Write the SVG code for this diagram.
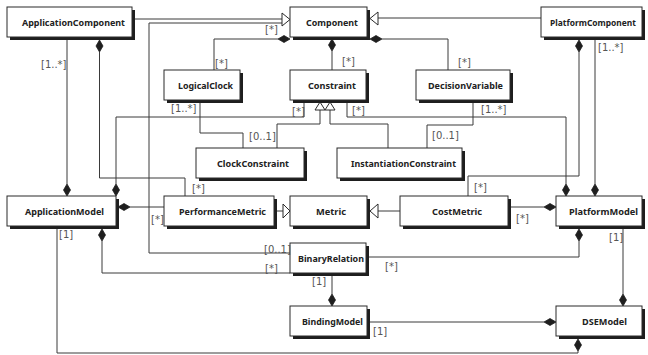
<svg xmlns="http://www.w3.org/2000/svg" width="648" height="355" viewBox="0 0 648 355">
<style>
.box{fill:#fff;stroke:#2a2a2a;stroke-width:1}
.sh{fill:#1e1e1e}
.nt{font-family:"Noto Sans","DejaVu Sans",sans-serif;font-weight:bold;font-size:9.5px;fill:#222}
.ml{font-family:"DejaVu Sans",sans-serif;font-size:10px;fill:#555}
.ln{fill:none;stroke:#3a3a3a;stroke-width:1}
.dia{fill:#1e1e1e;stroke:#1e1e1e;stroke-width:0.8}
.tri{fill:#fff;stroke:#2a2a2a;stroke-width:1}
</style>
<rect width="648" height="355" fill="#fff"/>
<g id="connectors">
<path class="ln" d="M135,19 H282"/>
<path class="ln" d="M290,253 H149 V23 H282"/>
<polygon class="tri" points="282,13 290,19.5 282,26"/>
<path class="ln" d="M541,18 H378"/>
<polygon class="tri" points="378,12 370,18.5 378,25"/>
<path class="ln" d="M277,148 V124 H320 V110"/>
<path class="ln" d="M388,148 V124 H330 V110"/>
<polygon class="tri" points="315,110 320,102 325,110"/>
<polygon class="tri" points="325,110 330,102 335,110"/>
<path class="ln" d="M277,211 H283"/>
<polygon class="tri" points="283,204 290,211 283,218"/>
<path class="ln" d="M400,211 H378"/>
<polygon class="tri" points="378,204 370,211 378,218"/>
<path class="ln" d="M278,39 H214 V70"/>
<polygon class="dia" points="290,39 284,35.5 278,39 284,42.5"/>
<path class="ln" d="M332,51 V70"/>
<polygon class="dia" points="332,39 335.5,45 332,51 328.5,45"/>
<path class="ln" d="M382,39 H448 V70"/>
<polygon class="dia" points="370,39 376,35.5 382,39 376,42.5"/>
<path class="ln" d="M579,52 V176 H468 V196"/>
<polygon class="dia" points="579,40 582.5,46 579,52 575.5,46"/>
<path class="ln" d="M595,40 V184"/>
<polygon class="dia" points="595,184 598.5,190 595,196 591.5,190"/>
<path class="ln" d="M67,40 V184"/>
<polygon class="dia" points="67,184 70.5,190 67,196 63.5,190"/>
<path class="ln" d="M99.5,52 V178 H185 V196"/>
<polygon class="dia" points="99.5,40 103,46 99.5,52 96,46"/>
<path class="ln" d="M200,103 V133 H243 V148"/>
<path class="ln" d="M473,103 V125 H427 V148"/>
<path class="ln" d="M304,103 V117 H116 V184"/>
<polygon class="dia" points="116,184 119.5,190 116,196 112.5,190"/>
<path class="ln" d="M347,103 V117 H566 V184"/>
<polygon class="dia" points="566,184 569.5,190 566,196 562.5,190"/>
<path class="ln" d="M130,207 H164"/>
<polygon class="dia" points="118,207 124,203.5 130,207 124,210.5"/>
<path class="ln" d="M511,207 H544"/>
<polygon class="dia" points="544,207 550,203.5 556,207 550,210.5"/>
<path class="ln" d="M102,241 V273 H290"/>
<polygon class="dia" points="102,229 105.5,235 102,241 98.5,235"/>
<path class="ln" d="M369,257 H579 V241"/>
<polygon class="dia" points="579,229 582.5,235 579,241 575.5,235"/>
<path class="ln" d="M623,229 V294"/>
<polygon class="dia" points="623,294 626.5,300 623,306 619.5,300"/>
<path class="ln" d="M332,276 V294"/>
<polygon class="dia" points="332,294 335.5,300 332,306 328.5,300"/>
<path class="ln" d="M370,322 H544"/>
<polygon class="dia" points="544,322 550,318.5 556,322 550,325.5"/>
<path class="ln" d="M57,229 V353 H578 V351"/>
<polygon class="dia" points="578,339 581.5,345 578,351 574.5,345"/>
</g>
<g id="ApplicationComponent"><rect class="sh" x="10" y="10" width="125" height="30"/><rect class="box" x="7" y="7" width="125" height="30"/><text class="nt" x="22" y="26" textLength="103" lengthAdjust="spacingAndGlyphs">ApplicationComponent</text></g>
<g id="Component"><rect class="sh" x="293" y="10" width="77" height="30"/><rect class="box" x="290" y="7" width="77" height="30"/><text class="nt" x="306" y="26" textLength="52" lengthAdjust="spacingAndGlyphs">Component</text></g>
<g id="PlatformComponent"><rect class="sh" x="544" y="10" width="101" height="30"/><rect class="box" x="541" y="7" width="101" height="30"/><text class="nt" x="550" y="26" textLength="86" lengthAdjust="spacingAndGlyphs">PlatformComponent</text></g>
<g id="LogicalClock"><rect class="sh" x="167" y="73" width="76" height="30"/><rect class="box" x="164" y="70" width="76" height="30"/><text class="nt" x="178" y="89" textLength="55" lengthAdjust="spacingAndGlyphs">LogicalClock</text></g>
<g id="Constraint"><rect class="sh" x="293" y="73" width="76" height="30"/><rect class="box" x="290" y="70" width="76" height="30"/><text class="nt" x="308" y="89" textLength="48" lengthAdjust="spacingAndGlyphs">Constraint</text></g>
<g id="DecisionVariable"><rect class="sh" x="419" y="73" width="94" height="30"/><rect class="box" x="416" y="70" width="94" height="30"/><text class="nt" x="428" y="89" textLength="75" lengthAdjust="spacingAndGlyphs">DecisionVariable</text></g>
<g id="ClockConstraint"><rect class="sh" x="199" y="151" width="108" height="30"/><rect class="box" x="196" y="148" width="108" height="30"/><text class="nt" x="217" y="167" textLength="72" lengthAdjust="spacingAndGlyphs">ClockConstraint</text></g>
<g id="InstantiationConstraint"><rect class="sh" x="340" y="151" width="125" height="30"/><rect class="box" x="337" y="148" width="125" height="30"/><text class="nt" x="351" y="167" textLength="105" lengthAdjust="spacingAndGlyphs">InstantiationConstraint</text></g>
<g id="ApplicationModel"><rect class="sh" x="10" y="199" width="109" height="30"/><rect class="box" x="7" y="196" width="109" height="30"/><text class="nt" x="25" y="215" textLength="79" lengthAdjust="spacingAndGlyphs">ApplicationModel</text></g>
<g id="PerformanceMetric"><rect class="sh" x="167" y="199" width="110" height="30"/><rect class="box" x="164" y="196" width="110" height="30"/><text class="nt" x="179" y="215" textLength="87" lengthAdjust="spacingAndGlyphs">PerformanceMetric</text></g>
<g id="Metric"><rect class="sh" x="293" y="199" width="77" height="30"/><rect class="box" x="290" y="196" width="77" height="30"/><text class="nt" x="316" y="215" textLength="30" lengthAdjust="spacingAndGlyphs">Metric</text></g>
<g id="CostMetric"><rect class="sh" x="403" y="199" width="108" height="30"/><rect class="box" x="400" y="196" width="108" height="30"/><text class="nt" x="432" y="215" textLength="50" lengthAdjust="spacingAndGlyphs">CostMetric</text></g>
<g id="PlatformModel"><rect class="sh" x="559" y="199" width="86" height="30"/><rect class="box" x="556" y="196" width="86" height="30"/><text class="nt" x="569" y="215" textLength="69" lengthAdjust="spacingAndGlyphs">PlatformModel</text></g>
<g id="BinaryRelation"><rect class="sh" x="293" y="246" width="76" height="30"/><rect class="box" x="290" y="243" width="76" height="30"/><text class="nt" x="298" y="262" textLength="66" lengthAdjust="spacingAndGlyphs">BinaryRelation</text></g>
<g id="BindingModel"><rect class="sh" x="293" y="309" width="77" height="30"/><rect class="box" x="290" y="306" width="77" height="30"/><text class="nt" x="302" y="325" textLength="61" lengthAdjust="spacingAndGlyphs">BindingModel</text></g>
<g id="DSEModel"><rect class="sh" x="559" y="309" width="86" height="30"/><rect class="box" x="556" y="306" width="86" height="30"/><text class="nt" x="582" y="325" textLength="45" lengthAdjust="spacingAndGlyphs">DSEModel</text></g>
<g id="labels">
<text class="ml" x="265" y="33">[*]</text>
<text class="ml" x="215" y="67">[*]</text>
<text class="ml" x="342" y="65">[*]</text>
<text class="ml" x="458" y="66">[*]</text>
<text class="ml" x="598" y="51">[1..*]</text>
<text class="ml" x="41" y="68">[1..*]</text>
<text class="ml" x="171" y="112">[1..*]</text>
<text class="ml" x="292" y="115">[*]</text>
<text class="ml" x="352" y="114">[*]</text>
<text class="ml" x="481" y="113">[1..*]</text>
<text class="ml" x="249" y="140">[0..1]</text>
<text class="ml" x="432" y="139">[0..1]</text>
<text class="ml" x="192" y="192">[*]</text>
<text class="ml" x="474" y="191">[*]</text>
<text class="ml" x="151" y="223">[*]</text>
<text class="ml" x="516" y="222">[*]</text>
<text class="ml" x="59" y="238">[1]</text>
<text class="ml" x="609" y="241">[1]</text>
<text class="ml" x="264" y="253">[0..1]</text>
<text class="ml" x="265" y="272">[*]</text>
<text class="ml" x="385" y="270">[*]</text>
<text class="ml" x="312" y="285">[1]</text>
<text class="ml" x="373" y="335">[1]</text>
</g>
</svg>
